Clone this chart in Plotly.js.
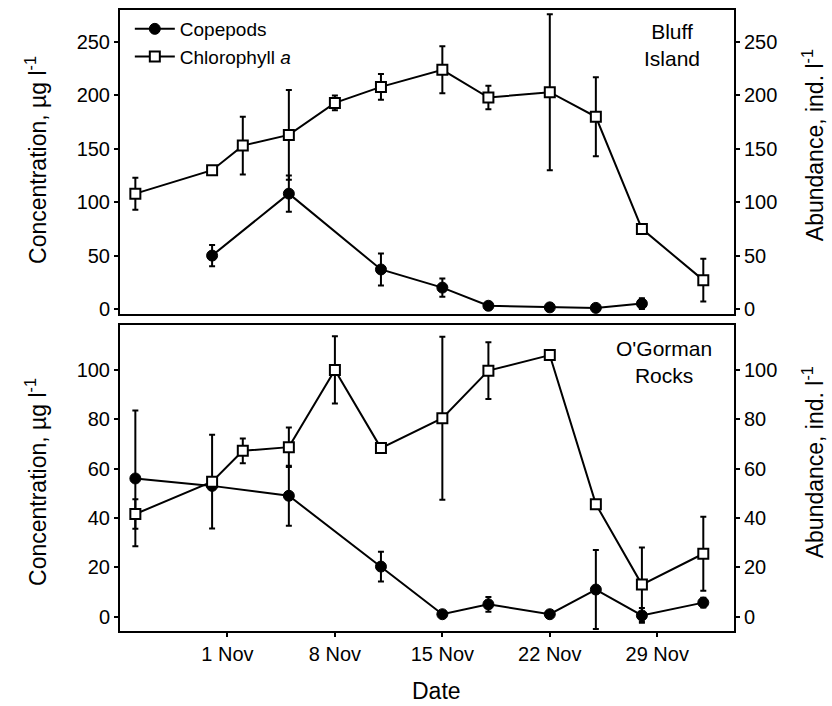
<!DOCTYPE html>
<html>
<head>
<meta charset="utf-8">
<script src="https://cdn.plot.ly/plotly-3.0.1.min.js"></script>
<style>html,body{margin:0;padding:0;background:#fff;}#chart{width:832px;height:706px;}</style>
</head>
<body>
<div id="chart"></div>
<script>
// ---- Data ----
var sampleDates = ['2000-10-26','2000-10-31','2000-11-02','2000-11-05','2000-11-08','2000-11-11',
                   '2000-11-15','2000-11-18','2000-11-22','2000-11-25','2000-11-28','2000-12-02'];

// Bluff Island
var bluffChl    = [108, 130, 153, 163, 193, 208, 224, 198, 203, 180, 75, 27];
var bluffChlErr = [15, 3, 27, 42, 7, 12, 22, 11, 73, 37, 0, 20];
var bluffCopDates = ['2000-10-31','2000-11-05','2000-11-11','2000-11-15','2000-11-18','2000-11-22','2000-11-25','2000-11-28'];
var bluffCop    = [50, 108, 37, 20, 3, 1.5, 1, 5];
var bluffCopErr = [10, 17, 15, 8.5, 0, 0, 0, 5];

// O'Gorman Rocks
var ogChl    = [41.6, 54.7, 67.2, 68.7, 100, 68.3, 80.4, 99.7, 106, 45.6, 13, 25.5];
var ogChlErr = [6, 19, 5, 8, 13.6, 2, 33, 11.5, 1.5, 0, 15, 15];
var ogCopDates = ['2000-10-26','2000-10-31','2000-11-05','2000-11-11','2000-11-15','2000-11-18','2000-11-22','2000-11-25','2000-11-28','2000-12-02'];
var ogCop    = [56, 53, 49, 20.3, 1, 5, 1, 11, 0.5, 5.7];
var ogCopErr = [27.5, 0, 12.2, 6, 0, 3, 0, 16, 3, 2];

var tickDates  = ['2000-11-01','2000-11-08','2000-11-15','2000-11-22','2000-11-29'];
var tickLabels = ['1 Nov','8 Nov','15 Nov','22 Nov','29 Nov'];

// ---- Styling ----
var FONT = 'Arial, "Liberation Sans", Helvetica, sans-serif';
var copMarker = {symbol:'circle', size:11, color:'#000', line:{color:'#000', width:1}};
var chlMarker = {symbol:'square', size:10, color:'#fff', line:{color:'#000', width:2}};
function err(a){ return {type:'data', array:a, visible:true, color:'#000', thickness:2, width:3}; }

var traces = [
  {x: bluffCopDates, y: bluffCop, error_y: err(bluffCopErr), xaxis:'x', yaxis:'y',
   mode:'lines+markers', name:'Copepods', line:{color:'#000', width:2}, marker:copMarker},
  {x: sampleDates, y: bluffChl, error_y: err(bluffChlErr), xaxis:'x', yaxis:'y3',
   mode:'lines+markers', name:'Chlorophyll <i>a</i>', line:{color:'#000', width:2}, marker:chlMarker},
  {x: ogCopDates, y: ogCop, error_y: err(ogCopErr), xaxis:'x2', yaxis:'y2', showlegend:false,
   mode:'lines+markers', name:'Copepods', line:{color:'#000', width:2}, marker:copMarker},
  {x: sampleDates, y: ogChl, error_y: err(ogChlErr), xaxis:'x2', yaxis:'y4', showlegend:false,
   mode:'lines+markers', name:'Chlorophyll a', line:{color:'#000', width:2}, marker:chlMarker}
];

var xRange = ['2000-10-25', '2000-12-04'];
var topRange = [-4.7, 280];
var botRange = [-5.8, 118.2];
var tickFont = {family: FONT, size: 20, color:'#000'};

function yAx(domain, range, dtick, side, extra){
  var a = {domain: domain, range: range, dtick: dtick, tick0: 0, side: side,
    ticks:'outside', ticklen:4, tickwidth:2, tickcolor:'#000',
    showline:true, linewidth:2, linecolor:'#000', showgrid:false, zeroline:false,
    tickfont: tickFont, fixedrange:true};
  for (var k in extra) a[k] = extra[k];
  return a;
}

var topDom = [0.5105, 1];
var botDom = [0, 0.4928];

var layout = {
  width: 832, height: 706,
  margin: {l:120, r:98, t:10, b:75},
  paper_bgcolor:'#fff', plot_bgcolor:'#fff',
  font: {family: FONT, color:'#000'},
  showlegend: true,
  legend: {x: 0.016, y: 1, xanchor:'left', yanchor:'top', bgcolor:'rgba(0,0,0,0)',
           itemwidth: 40, font:{family: FONT, size:19, color:'#000'}, tracegroupgap:0},
  xaxis: {domain:[0,1], anchor:'y', type:'date', range: xRange, showticklabels:false, ticks:'',
          showline:true, mirror:true, linewidth:2, linecolor:'#000', showgrid:false, zeroline:false},
  xaxis2: {domain:[0,1], anchor:'y2', type:'date', range: xRange, tickvals: tickDates, ticktext: tickLabels,
           ticks:'outside', ticklen:4, tickwidth:2, tickcolor:'#000', tickfont: tickFont,
           showline:true, mirror:true, linewidth:2, linecolor:'#000', showgrid:false, zeroline:false},
  yaxis:  yAx(topDom, topRange, 50, 'right', {anchor:'x', mirror:true}),
  yaxis3: yAx(topDom, topRange, 50, 'left', {anchor:'x', overlaying:'y'}),
  yaxis2: yAx(botDom, botRange, 20, 'right', {anchor:'x2', mirror:true}),
  yaxis4: yAx(botDom, botRange, 20, 'left', {anchor:'x2', overlaying:'y2'}),
  annotations: [
    {text:'Concentration, µg l<sup>-1</sup>', xref:'paper', yref:'paper', x:-0.1368, y:0.7585,
     textangle:-90, showarrow:false, xanchor:'center', yanchor:'middle', font:{family:FONT, size:23}},
    {text:'Concentration, µg l<sup>-1</sup>', xref:'paper', yref:'paper', x:-0.1368, y:0.24,
     textangle:-90, showarrow:false, xanchor:'center', yanchor:'middle', font:{family:FONT, size:23}},
    {text:'Abundance, ind. l<sup>-1</sup>', xref:'paper', yref:'paper', x:1.129, y:0.7826,
     textangle:-90, showarrow:false, xanchor:'center', yanchor:'middle', font:{family:FONT, size:23}},
    {text:'Abundance, ind. l<sup>-1</sup>', xref:'paper', yref:'paper', x:1.129, y:0.272,
     textangle:-90, showarrow:false, xanchor:'center', yanchor:'middle', font:{family:FONT, size:23}},
    {text:'Date', xref:'paper', yref:'paper', x:0.5147, y:-0.097, showarrow:false,
     xanchor:'center', yanchor:'middle', font:{family:FONT, size:23}},
    {text:'Bluff<br>Island', xref:'paper', yref:'paper', x:0.899, y:0.9436, showarrow:false,
     xanchor:'center', yanchor:'middle', align:'center', font:{family:FONT, size:21}},
    {text:"O'Gorman<br>Rocks", xref:'paper', yref:'paper', x:0.886, y:0.4324, showarrow:false,
     xanchor:'center', yanchor:'middle', align:'center', font:{family:FONT, size:21}}
  ]
};

Plotly.newPlot('chart', traces, layout, {displayModeBar:false, staticPlot:true});
</script>
</body>
</html>
